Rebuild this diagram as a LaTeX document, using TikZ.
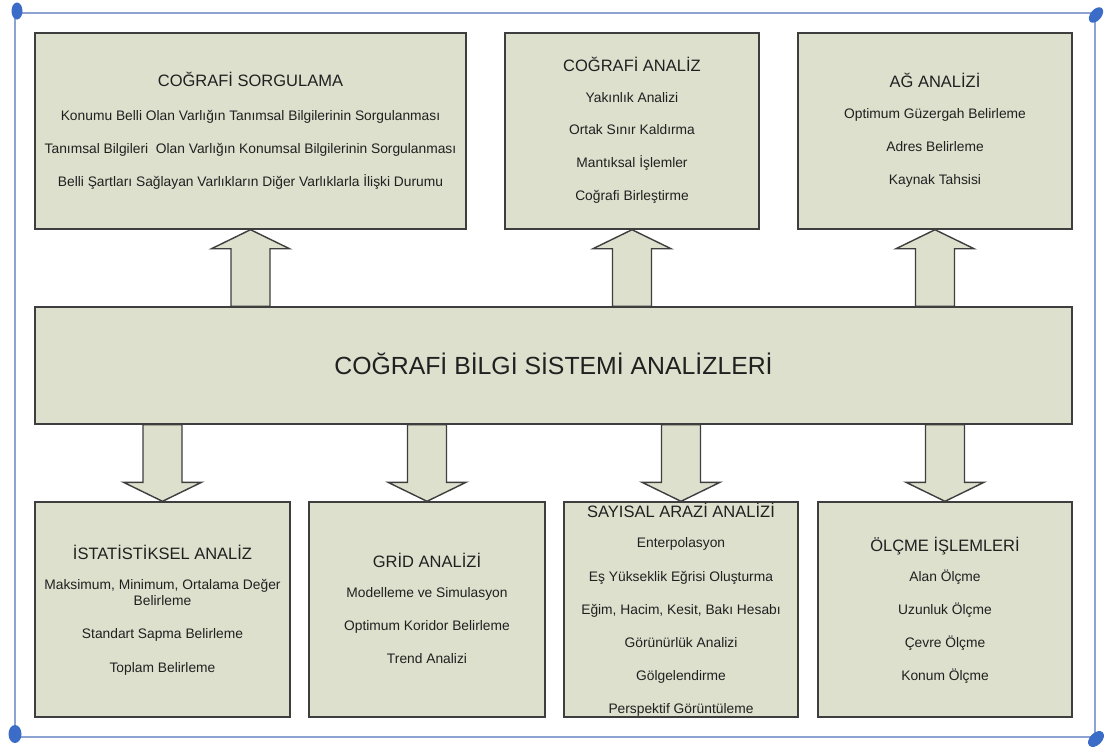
\documentclass[tikz,border=0pt]{standalone}
\usepackage{fontspec}
\setmainfont{Liberation Sans}
\usetikzlibrary{calc}

\definecolor{boxfill}{RGB}{221,224,205}
\definecolor{edge}{RGB}{62,62,62}
\definecolor{ink}{RGB}{32,32,32}
\definecolor{framec}{RGB}{140,163,212}
\definecolor{handle}{RGB}{58,108,200}

\tikzset{
  box/.style={draw=edge, fill=boxfill, line width=1.4pt, inner sep=0pt},
  item/.style={anchor=base, inner sep=0pt, text=ink, font=\fontsize{13.8}{16}\selectfont},
  heading/.style={anchor=base, inner sep=0pt, text=ink, font=\fontsize{16.5}{19}\selectfont},
  maintitle/.style={anchor=base, inner sep=0pt, text=ink, font=\fontsize{24.8}{28}\selectfont},
  fatarrow/.style={draw=edge, fill=boxfill, line width=1.4pt, line join=miter},
}

% Block arrow from a point on one box edge to the facing edge of another box
\newcommand{\fatlink}[2]{%
  \path[fatarrow] let \p1=(#1), \p2=(#2), \n1={sign(\y2-\y1)} in
    ({\x2-19.5pt},\y1) -- ({\x2-19.5pt},{\y2-\n1*19pt}) -- ({\x2-39pt},{\y2-\n1*19pt})
    -- (\x2,\y2) -- ({\x2+39pt},{\y2-\n1*19pt}) -- ({\x2+19.5pt},{\y2-\n1*19pt})
    -- ({\x2+19.5pt},\y1) -- cycle;}

\begin{document}
\begin{tikzpicture}[x=1pt, y=-1pt]
\useasboundingbox (0,0) rectangle (1105,748);
\fill[white] (0,0) rectangle (1105,748);

% outer frame with corner handles
\draw[framec, line width=1.6pt] (15,13) rectangle (1095,737);
\fill[handle] (17,11) ellipse [x radius=5.5, y radius=8.5];
\fill[handle, rotate around={-40:(1096,15)}] (1096,15) ellipse [x radius=5.5, y radius=9];
\fill[handle] (15,734) ellipse [x radius=6.5, y radius=9];
\fill[handle, rotate around={-45:(1096,739)}] (1096,739) ellipse [x radius=6, y radius=9.5];

% boxes
\node[box, minimum width=431, minimum height=196] (t1) at (250.5,131) {};
\node[box, minimum width=254, minimum height=196] (t2) at (632,131) {};
\node[box, minimum width=274, minimum height=196] (t3) at (935,131) {};
\node[box, minimum width=1037, minimum height=117] (main) at (553.5,365.5) {};
\node[box, minimum width=255, minimum height=215] (b1) at (162.5,609.5) {};
\node[box, minimum width=236, minimum height=215] (b2) at (427,609.5) {};
\node[box, minimum width=234, minimum height=215] (b3) at (681,609.5) {};
\node[box, minimum width=254, minimum height=215] (b4) at (945,609.5) {};

% block arrows
\fatlink{main.north -| t1.south}{t1.south}
\fatlink{main.north -| t2.south}{t2.south}
\fatlink{main.north -| t3.south}{t3.south}
\fatlink{main.south -| b1.north}{b1.north}
\fatlink{main.south -| b2.north}{b2.north}
\fatlink{main.south -| b3.north}{b3.north}
\fatlink{main.south -| b4.north}{b4.north}

% texts: upper row
\node[heading] (t1h) at (250.5,86) {COĞRAFİ SORGULAMA};
\node[item] (t1a) at (250.5,120) {Konumu Belli Olan Varlığın Tanımsal Bilgilerinin Sorgulanması};
\node[item] (t1b) at (250.5,153) {Tanımsal Bilgileri~ Olan Varlığın Konumsal Bilgilerinin Sorgulanması};
\node[item] (t1c) at (250.5,186) {Belli Şartları Sağlayan Varlıkların Diğer Varlıklarla İlişki Durumu};

\node[heading] (t2h) at (632,71) {COĞRAFİ ANALİZ};
\node[item] (t2a) at (632,102) {Yakınlık Analizi};
\node[item] (t2b) at (632,134) {Ortak Sınır Kaldırma};
\node[item] (t2c) at (632,167) {Mantıksal İşlemler};
\node[item] (t2d) at (632,200) {Coğrafi Birleştirme};

\node[heading] (t3h) at (935,87) {AĞ ANALİZİ};
\node[item] (t3a) at (935,118) {Optimum Güzergah Belirleme};
\node[item] (t3b) at (935,151) {Adres Belirleme};
\node[item] (t3c) at (935,184) {Kaynak Tahsisi};

% central box
\node[maintitle] (mt) at (553.5,374) {COĞRAFİ BİLGİ SİSTEMİ ANALİZLERİ};

% texts: lower row
\node[heading] (b1h) at (162.5,559) {İSTATİSTİKSEL ANALİZ};
\node[item] (b1a) at (162.5,589) {Maksimum, Minimum, Ortalama Değer};
\node[item] (b1b) at (162.5,605) {Belirleme};
\node[item] (b1c) at (162.5,638) {Standart Sapma Belirleme};
\node[item] (b1d) at (162.5,672) {Toplam Belirleme};

\node[heading] (b2h) at (427,567) {GRİD ANALİZİ};
\node[item] (b2a) at (427,597) {Modelleme ve Simulasyon};
\node[item] (b2b) at (427,630) {Optimum Koridor Belirleme};
\node[item] (b2c) at (427,663) {Trend Analizi};

\node[heading] (b3h) at (681,517) {SAYISAL ARAZİ ANALİZİ};
\node[item] (b3a) at (681,547) {Enterpolasyon};
\node[item] (b3b) at (681,581) {Eş Yükseklik Eğrisi Oluşturma};
\node[item] (b3c) at (681,614) {Eğim, Hacim, Kesit, Bakı Hesabı};
\node[item] (b3d) at (681,647) {Görünürlük Analizi};
\node[item] (b3e) at (681,680) {Gölgelendirme};
\node[item] (b3f) at (681,713) {Perspektif Görüntüleme};

\node[heading] (b4h) at (945,551) {ÖLÇME İŞLEMLERİ};
\node[item] (b4a) at (945,581) {Alan Ölçme};
\node[item] (b4b) at (945,614) {Uzunluk Ölçme};
\node[item] (b4c) at (945,647) {Çevre Ölçme};
\node[item] (b4d) at (945,680) {Konum Ölçme};
\end{tikzpicture}
\end{document}
